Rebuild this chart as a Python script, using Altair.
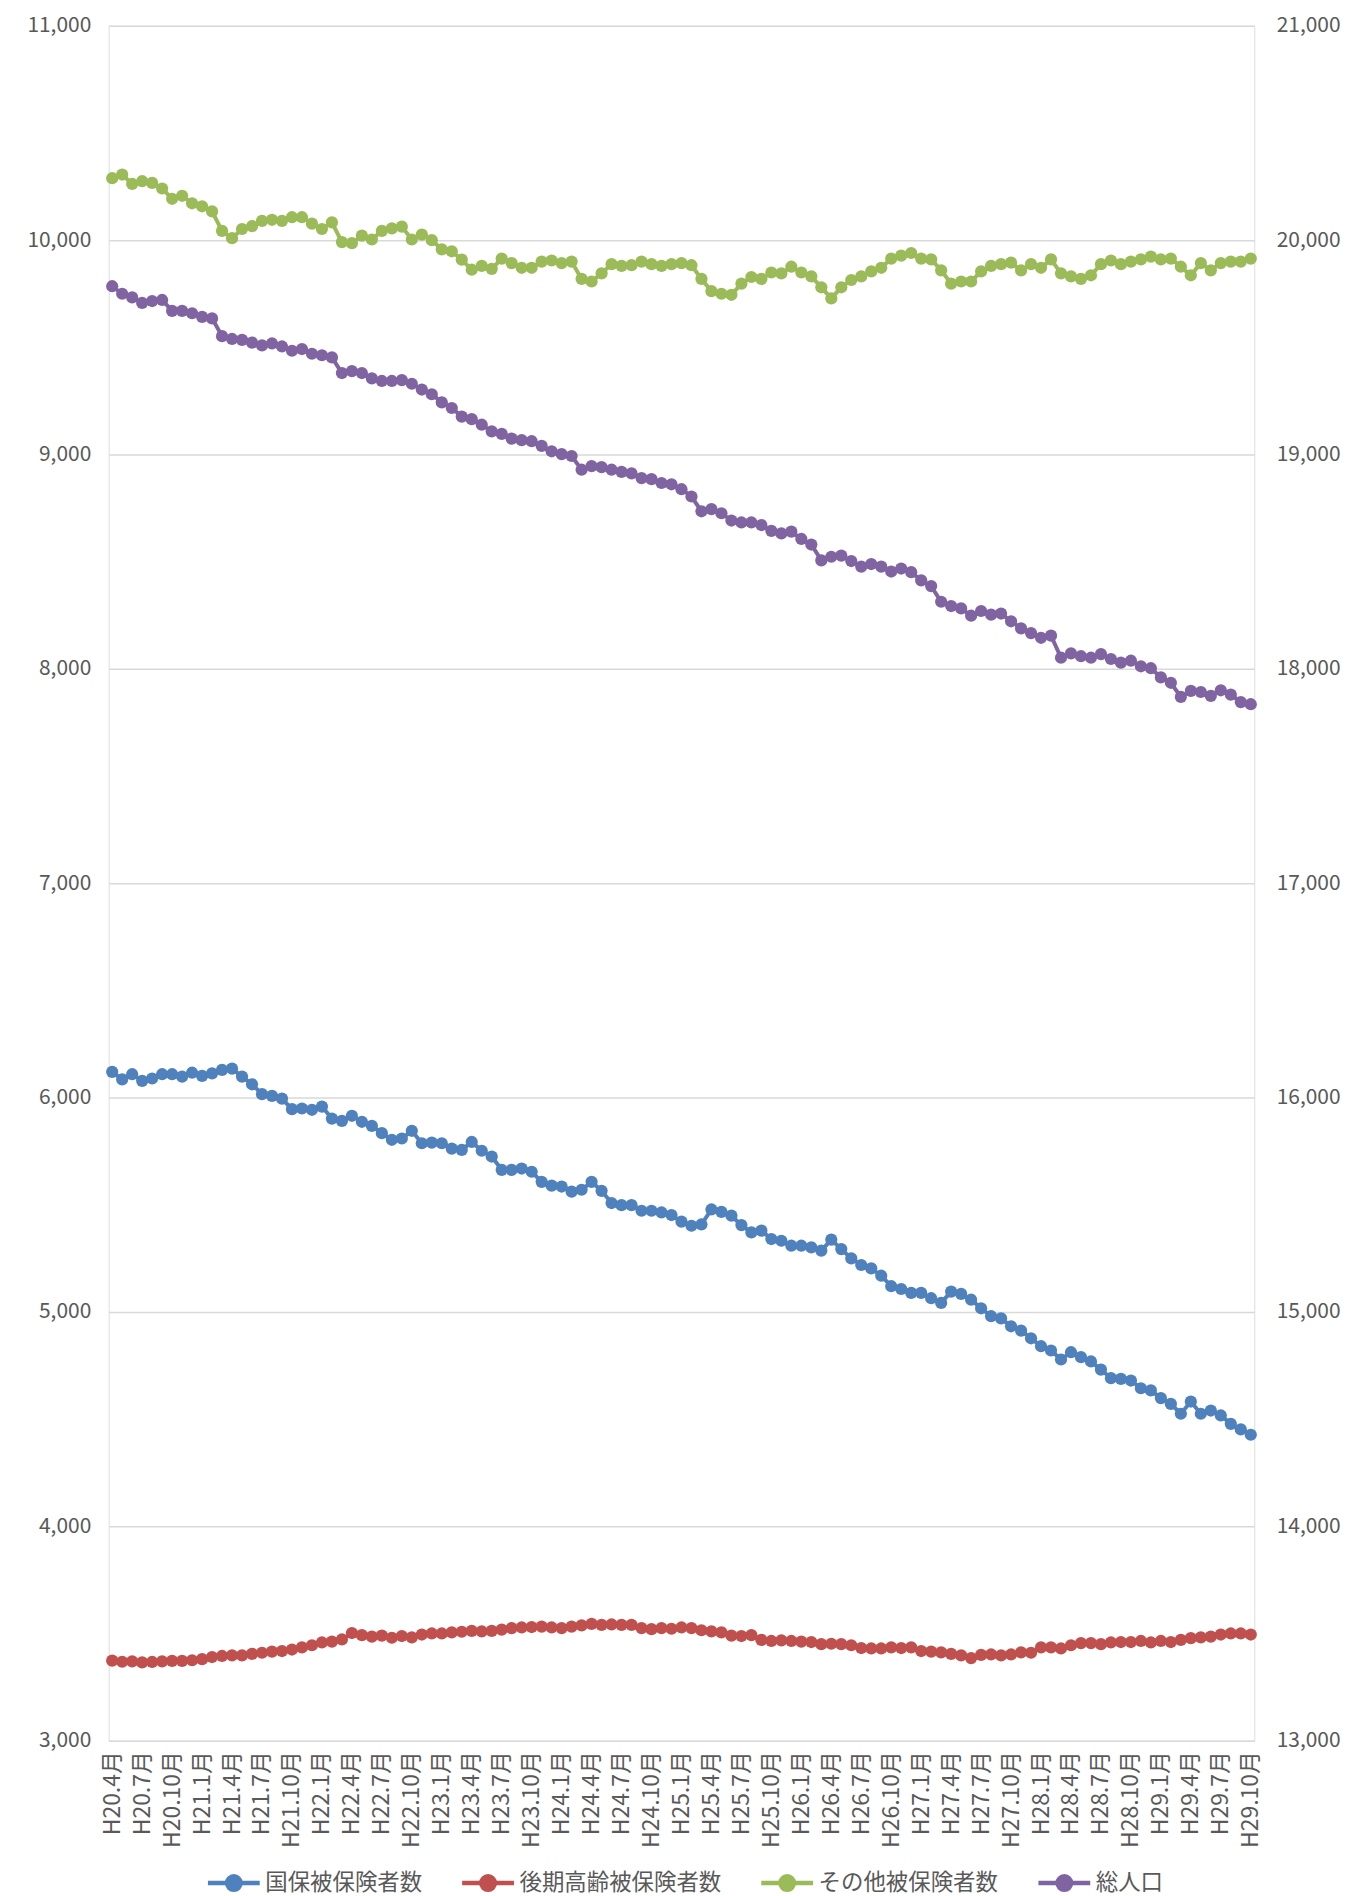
import altair as alt
import pandas as pd

# Month categories H20.4月 ... H29.10月
months = []
for i in range(115):
    t = 3 + i
    months.append(f"H{20 + t // 12}.{t % 12 + 1}月")

series_names = ["国保被保険者数", "後期高齢被保険者数", "その他被保険者数", "総人口"]
series_colors = ["#4F81BD", "#C0504D", "#9BBB59", "#8064A2"]

kokuho = [6120, 6085, 6109, 6078, 6089, 6109, 6109, 6098, 6116, 6101,
          6113, 6129, 6135, 6098, 6062, 6016, 6008, 5995, 5946, 5949,
          5943, 5958, 5902, 5891, 5915, 5887, 5868, 5834, 5803, 5809,
          5845, 5787, 5790, 5787, 5762, 5756, 5793, 5752, 5725, 5663,
          5663, 5669, 5654, 5607, 5589, 5585, 5561, 5570, 5607, 5565,
          5508, 5498, 5498, 5472, 5472, 5464, 5452, 5421, 5402, 5408,
          5478, 5467, 5449, 5405, 5371, 5379, 5340, 5332, 5309, 5309,
          5301, 5286, 5337, 5293, 5250, 5219, 5203, 5169, 5120, 5107,
          5089, 5089, 5064, 5042, 5095, 5084, 5057, 5017, 4980, 4970,
          4933, 4913, 4877, 4840, 4820, 4778, 4812, 4789, 4769, 4731,
          4691, 4688, 4680, 4644, 4634, 4598, 4571, 4525, 4582, 4525,
          4540, 4517, 4478, 4452, 4427]

kouki = [3373, 3368, 3370, 3365, 3367, 3370, 3372, 3372, 3375, 3380,
         3390, 3395, 3398, 3398, 3405, 3410, 3415, 3418, 3425, 3435,
         3445, 3458, 3462, 3472, 3502, 3492, 3485, 3490, 3480, 3488,
         3482, 3495, 3500, 3500, 3505, 3508, 3512, 3510, 3512, 3518,
         3525, 3528, 3530, 3532, 3528, 3525, 3532, 3538, 3545, 3540,
         3542, 3540, 3540, 3525, 3520, 3525, 3522, 3528, 3525, 3515,
         3510, 3505, 3490, 3488, 3492, 3470, 3465, 3468, 3465, 3462,
         3460, 3450, 3452, 3450, 3445, 3432, 3430, 3430, 3435, 3432,
         3435, 3418, 3415, 3412, 3405, 3398, 3385, 3400, 3402, 3398,
         3402, 3412, 3410, 3435, 3435, 3430, 3445, 3455, 3455, 3450,
         3458, 3460, 3460, 3465, 3458, 3465, 3460, 3470, 3478, 3482,
         3485, 3495, 3500, 3500, 3495]

sonota = [10289, 10306, 10262, 10275, 10267, 10241, 10193, 10207, 10172, 10158,
          10134, 10043, 10009, 10052, 10065, 10090, 10095, 10090, 10107, 10107,
          10077, 10052, 10083, 9991, 9986, 10021, 10003, 10043, 10055, 10063,
          10003, 10026, 10000, 9957, 9948, 9909, 9862, 9880, 9866, 9914,
          9893, 9871, 9871, 9900, 9905, 9893, 9900, 9819, 9807, 9845,
          9888, 9880, 9883, 9900, 9888, 9880, 9888, 9893, 9883, 9819,
          9762, 9750, 9745, 9797, 9828, 9819, 9849, 9845, 9876, 9849,
          9831, 9780, 9728, 9780, 9814, 9831, 9854, 9871, 9914, 9928,
          9940, 9914, 9910, 9859, 9797, 9807, 9807, 9854, 9880, 9888,
          9895, 9859, 9888, 9871, 9910, 9845, 9831, 9819, 9836, 9888,
          9905, 9888, 9900, 9910, 9923, 9910, 9914, 9876, 9836, 9893,
          9859, 9893, 9900, 9900, 9914]

jinko = [19785, 19750, 19733, 19707, 19716, 19721, 19670, 19670, 19659, 19642,
         19635, 19552, 19539, 19535, 19522, 19509, 19518, 19504, 19484, 19492,
         19470, 19463, 19453, 19380, 19389, 19380, 19355, 19343, 19343, 19347,
         19330, 19303, 19281, 19243, 19217, 19177, 19165, 19139, 19108, 19096,
         19074, 19067, 19062, 19040, 19015, 19002, 18993, 18929, 18946, 18941,
         18929, 18919, 18912, 18890, 18885, 18867, 18861, 18838, 18804, 18735,
         18745, 18726, 18692, 18683, 18683, 18671, 18644, 18632, 18640, 18606,
         18580, 18506, 18523, 18528, 18503, 18477, 18489, 18477, 18454, 18468,
         18451, 18413, 18386, 18313, 18293, 18282, 18248, 18270, 18253, 18258,
         18222, 18189, 18167, 18145, 18155, 18052, 18072, 18059, 18052, 18069,
         18046, 18029, 18038, 18012, 18003, 17960, 17935, 17869, 17897, 17892,
         17874, 17900, 17880, 17845, 17835]

rows = []
for name, vals in zip(series_names, [kokuho, kouki, sonota, jinko]):
    for m, v in zip(months, vals):
        rows.append({"month": m, "series": name, "value": v})
df = pd.DataFrame(rows)

FONT = "Noto Sans CJK JP"
GRAY = "#595959"

x_enc = alt.X(
    "month:O", sort=months, title=None,
    scale=alt.Scale(padding=0.35),
    axis=alt.Axis(values=months[::3], labelAngle=270, labelFontSize=23,
                  labelColor=GRAY, labelFont=FONT, labelPadding=10,
                  ticks=False, domain=False, grid=False),
)

legend_symbol = "M-1,0H1M-0.26,0A0.26,0.26,0,1,0,0.26,0A0.26,0.26,0,1,0,-0.26,0Z"
color_enc = alt.Color(
    "series:N", sort=series_names,
    scale=alt.Scale(domain=series_names, range=series_colors),
    legend=alt.Legend(
        orient="none", legendX=97, legendY=1834,
        direction="horizontal", title=None,
        symbolType=legend_symbol, symbolSize=2700, symbolStrokeWidth=4.5,
        labelFontSize=22.5, labelFont=FONT, labelColor=GRAY, labelLimit=600,
        columnPadding=30, labelOffset=3, padding=0,
    ),
)

base = alt.Chart(df).encode(x=x_enc, color=color_enc)

y_left = alt.Y(
    "value:Q", title=None,
    scale=alt.Scale(domain=[3000, 11000], nice=False, zero=False),
    axis=alt.Axis(values=list(range(3000, 11001, 1000)), format=",d",
                  orient="left", labelFontSize=21, labelColor=GRAY,
                  labelFont=FONT, labelPadding=18, ticks=False, domain=False,
                  grid=True, gridColor="#d9d9d9", gridWidth=1.5),
)
y_right = alt.Y(
    "value:Q", title=None,
    scale=alt.Scale(domain=[13000, 21000], nice=False, zero=False),
    axis=alt.Axis(values=list(range(13000, 21001, 1000)), format=",d",
                  orient="right", labelFontSize=21, labelColor=GRAY,
                  labelFont=FONT, labelPadding=22, ticks=False, domain=False,
                  grid=False),
)

left_base = base.transform_filter(alt.datum.series != "総人口").encode(y=y_left)
right_base = base.transform_filter(alt.datum.series == "総人口").encode(y=y_right)

left = alt.layer(
    left_base.mark_line(strokeWidth=4),
    left_base.mark_circle(size=150, opacity=1),
)
right = alt.layer(
    right_base.mark_line(strokeWidth=4),
    right_base.mark_circle(size=150, opacity=1),
)

chart = alt.layer(left, right).resolve_scale(y="independent").properties(
    width=1149, height=1720,
    padding={"left": 18, "top": 4, "right": 2, "bottom": 0},
).configure_view(stroke=None).configure(font=FONT)

chart.save("out.html", embed_options={"renderer": "svg", "actions": False})
